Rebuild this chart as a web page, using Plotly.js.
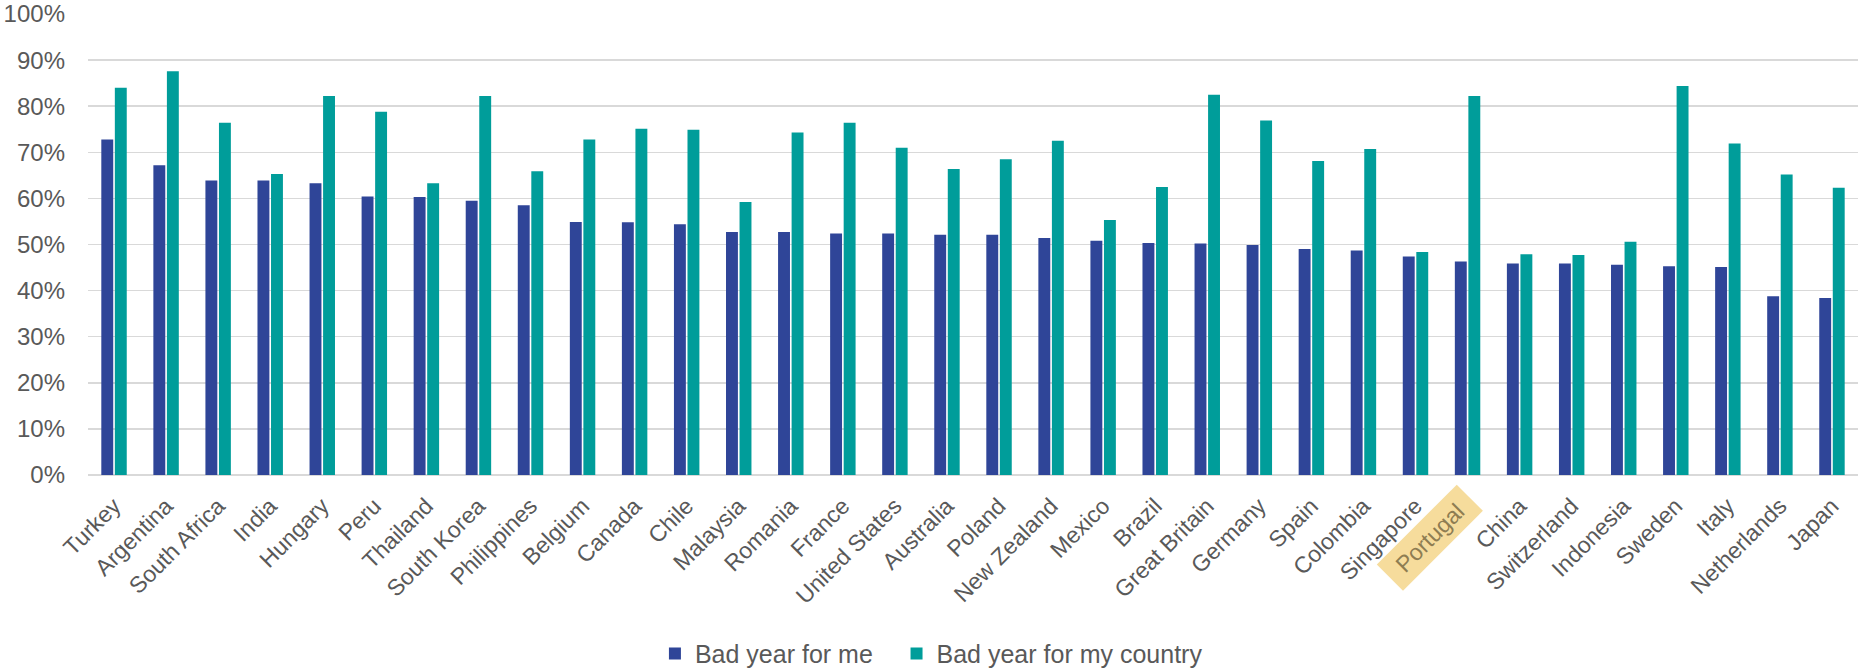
<!DOCTYPE html>
<html>
<head>
<meta charset="utf-8">
<script src="https://cdn.plot.ly/plotly-3.0.1.min.js"></script>
<style>
html,body{margin:0;padding:0;background:#fff;}
#chart{width:1858px;height:670px;}
</style>
</head>
<body>
<div id="chart"></div>
<script>
const countries = ["Turkey","Argentina","South Africa","India","Hungary","Peru","Thailand","South Korea","Philippines","Belgium","Canada","Chile","Malaysia","Romania","France","United States","Australia","Poland","New Zealand","Mexico","Brazil","Great Britain","Germany","Spain","Colombia","Singapore","Portugal","China","Switzerland","Indonesia","Sweden","Italy","Netherlands","Japan"];
const badForMe = [0.728,0.672,0.639,0.639,0.633,0.604,0.603,0.595,0.585,0.549,0.548,0.544,0.527,0.527,0.524,0.524,0.521,0.521,0.514,0.508,0.503,0.502,0.499,0.490,0.487,0.474,0.463,0.459,0.459,0.456,0.453,0.451,0.388,0.384];
const badForCountry = [0.840,0.876,0.764,0.653,0.822,0.788,0.633,0.822,0.659,0.728,0.751,0.749,0.592,0.743,0.764,0.710,0.664,0.685,0.725,0.553,0.625,0.825,0.769,0.681,0.707,0.484,0.822,0.479,0.477,0.506,0.844,0.719,0.652,0.623];
const seriesNames = ["Bad year for me","Bad year for my country"];
const highlight = "Portugal";
const yTickVals = [0,0.1,0.2,0.3,0.4,0.5,0.6,0.7,0.8,0.9,1.0];

const FONT = "Liberation Sans, Arial, sans-serif";
const GREY = "#595959";

const tickText = countries.map(c => c === highlight ? " " : c);

const traces = [
  {type:"bar", name:seriesNames[0], x:countries, y:badForMe, marker:{color:"#2F4598"}, hoverinfo:"x+y", legend:"legend"},
  {type:"bar", name:seriesNames[1], x:countries, y:badForCountry, marker:{color:"#009D9A"}, hoverinfo:"x+y", legend:"legend2"}
];

const legendBase = {orientation:"h", xanchor:"left", y:-0.388, yanchor:"middle",
          font:{family:FONT, size:25, color:GREY}, bgcolor:"rgba(0,0,0,0)"};

const layout = {
  width:1858, height:670,
  margin:{l:88, r:0, t:14, b:195, pad:0, autoexpand:false},
  paper_bgcolor:"#fff", plot_bgcolor:"#fff",
  font:{family:FONT, size:24, color:GREY},
  barmode:"group", bargap:0.48, bargroupgap:0.12,
  showlegend:true,
  legend:Object.assign({}, legendBase, {x:0.3203}),
  legend2:Object.assign({}, legendBase, {x:0.4568}),
  xaxis:{type:"category", tickmode:"array", tickvals:countries, ticktext:tickText,
         tickangle:-45, showgrid:false, showline:false, zeroline:false, ticks:"",
         ticklabelstandoff:12,
         tickfont:{family:FONT, size:23, color:GREY}, automargin:false},
  yaxis:{range:[0,1], tickmode:"array", tickvals:yTickVals, tickformat:".0%",
         showgrid:true, gridcolor:"#D9D9D9", gridwidth:1.5, zeroline:true, zerolinecolor:"#D9D9D9", zerolinewidth:1.5,
         showline:false, ticks:"", ticklabelstandoff:22,
         tickfont:{family:FONT, size:24, color:GREY}, automargin:false},
  annotations:[{
    x:highlight, xref:"x", y:0, yref:"paper",
    text:highlight, showarrow:false, textangle:-45,
    xanchor:"center", yanchor:"middle", xshift:-38, yshift:-63,
    bgcolor:"#F6DC9C", width:112, height:36, borderpad:0,
    font:{family:FONT, size:23, color:"#8E7D52"}
  }]
};

Plotly.newPlot("chart", traces, layout, {staticPlot:true, displayModeBar:false});
</script>
</body>
</html>
